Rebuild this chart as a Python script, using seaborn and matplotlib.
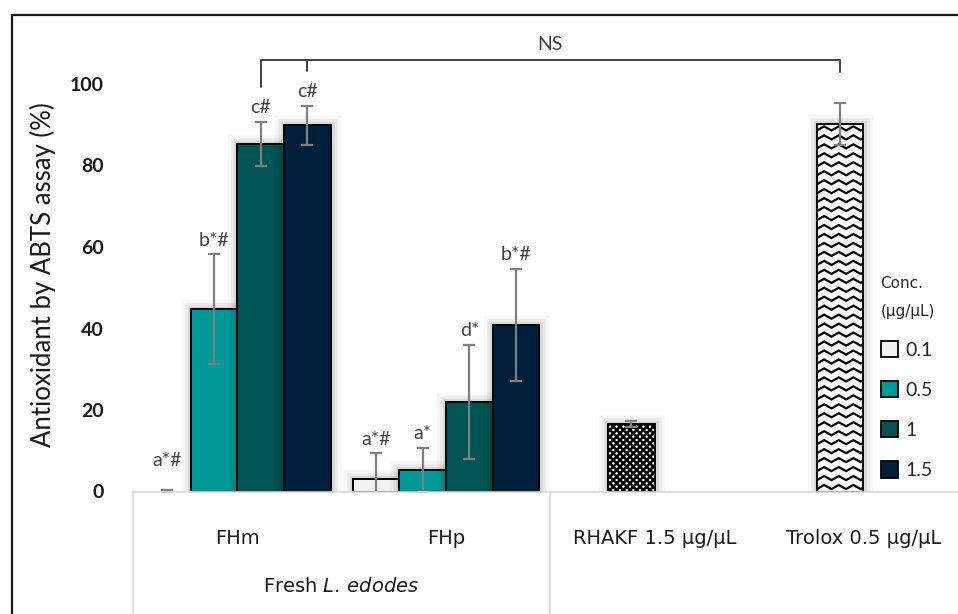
import numpy as np
import pandas as pd
import matplotlib
matplotlib.use("Agg")
import matplotlib.pyplot as plt
import matplotlib.patheffects as pe
from matplotlib.lines import Line2D
from matplotlib.patches import Patch
import seaborn as sns

# ---- data -------------------------------------------------------------
samples = ["FHm", "FHp", "RHAKF 1.5 μg/μL", "Trolox 0.5 μg/μL"]
conc_levels = ["0.1", "0.5", "1", "1.5"]

fhm_mean = [0.0, 44.8, 85.3, 89.9]
fhm_sd = [0.3, 13.4, 5.4, 4.8]
fhm_letters = ["a*#", "b*#", "c#", "c#"]

fhp_mean = [3.1, 5.3, 22.0, 40.9]
fhp_sd = [6.3, 5.4, 14.0, 13.7]
fhp_letters = ["a*#", "a*", "d*", "b*#"]

rhakf_mean = 16.6
rhakf_sd = 0.8
trolox_mean = 90.2
trolox_sd = 5.1

conc_colors = ["#F2F2F2", "#009999", "#005452", "#001F3A"]

# ---- table for seaborn -------------------------------------------------
rows = []
for c, m, s, l in zip(conc_levels, fhm_mean, fhm_sd, fhm_letters):
    rows.append(dict(sample="FHm", series=c, mean=m, sd=s, letter=l, fill="solid"))
for c, m, s, l in zip(conc_levels, fhp_mean, fhp_sd, fhp_letters):
    rows.append(dict(sample="FHp", series=c, mean=m, sd=s, letter=l, fill="solid"))
# reference compounds sit in the second series slot of their category
rows.append(dict(sample=samples[2], series="0.5", mean=rhakf_mean, sd=rhakf_sd, letter="", fill="dots"))
rows.append(dict(sample=samples[3], series="0.5", mean=trolox_mean, sd=trolox_sd, letter="", fill="zigzag"))
df = pd.DataFrame(rows)

# ---- style -------------------------------------------------------------
sns.set_style("white")
plt.rcParams["font.family"] = ["Lato", "DejaVu Sans"]
plt.rcParams["mathtext.fontset"] = "custom"
plt.rcParams["mathtext.rm"] = "DejaVu Sans"
plt.rcParams["mathtext.it"] = "DejaVu Sans:italic"
plt.rcParams["hatch.linewidth"] = 1.8
tahoma_like = ["DejaVu Sans"]

W, H = 958, 614
fig = plt.figure(figsize=(W / 100, H / 100), dpi=100)

# plot area in pixels: x from 133 to ~968, y=0 at 491.5, 4.075 px per unit
ymax = 110
y0_px, px_per_unit = 491.5, 4.075
ax_left, ax_w = 133, 834.8
ax_h = ymax * px_per_unit
ax = fig.add_axes([ax_left / W, (H - y0_px) / H, ax_w / W, ax_h / H])

cluster_width = 0.893
bar_w = cluster_width / len(conc_levels)

shadow = [pe.Stroke(linewidth=14, foreground=(0, 0, 0, 0.03)),
          pe.Stroke(linewidth=9, foreground=(0, 0, 0, 0.05)),
          pe.Stroke(linewidth=5, foreground=(0, 0, 0, 0.07)),
          pe.Normal()]

sns.barplot(data=df, x="sample", y="mean", hue="series", order=samples,
            hue_order=conc_levels, palette=conc_colors, saturation=1,
            width=cluster_width, gap=0, dodge=True, errorbar=None,
            edgecolor="black", linewidth=1.4, legend=False, ax=ax, zorder=2)

# centre of every bar from category index and series slot
df["xpos"] = [samples.index(s) + (conc_levels.index(c) - 1.5) * bar_w
              for s, c in zip(df["sample"], df["series"])]

bars = [p for p in ax.patches]
for p in bars:
    if p.get_height() > 0:
        p.set_path_effects(shadow)
    else:
        p.set_linewidth(0)

def bar_at(x):
    return min(bars, key=lambda p: abs(p.get_x() + p.get_width() / 2 - x))

# pattern fills for the reference compounds
for _, r in df[df["fill"] != "solid"].iterrows():
    p = bar_at(r["xpos"])
    p.set_facecolor("white")
    if r["fill"] == "dots":
        p.set_hatch("xxxxx")
    else:
        # zig-zag fill clipped to the bar outline
        period = 0.07
        amp = 0.5
        step = 2.2
        xs = np.arange(p.get_x() - period, p.get_x() + p.get_width() + period, period / 2)
        zz = np.where(np.arange(len(xs)) % 2 == 0, -amp, amp)
        for yl in np.arange(step / 2, r["mean"] + step, step):
            ln, = ax.plot(xs, yl + zz, color="black", lw=1.6, zorder=2.5,
                          solid_joinstyle="miter")
            ln.set_clip_path(p)

# error bars
ax.errorbar(df["xpos"], df["mean"], yerr=df["sd"], fmt="none", ecolor="#7F7F7F",
            elinewidth=1.6, capsize=4.5, capthick=1.6, zorder=3)

# significance letters
label_offsets = {("FHm", "0.1"): 15}
for _, r in df[df["letter"] != ""].iterrows():
    off = label_offsets.get((r["sample"], r["series"]), 4)
    ax.annotate(r["letter"], (r["xpos"], r["mean"] + r["sd"]), xytext=(0, off),
                textcoords="offset points", ha="center", va="bottom",
                fontsize=14, color="#404040", zorder=4, annotation_clip=False)

# NS bracket between FHm (1, 1.5) and Trolox
x_fhm1 = df.query("sample=='FHm' and series=='1'")["xpos"].iloc[0]
x_fhm15 = df.query("sample=='FHm' and series=='1.5'")["xpos"].iloc[0]
x_tro = df.query("fill=='zigzag'")["xpos"].iloc[0]
by = 105.9
kw = dict(color="#404040", lw=1.4, clip_on=False, zorder=4)
ax.plot([x_fhm1, x_fhm1, x_tro, x_tro], [99.3, by, by, 102.9], **kw)
ax.plot([x_fhm15, x_fhm15], [by, 103.2], **kw)
ax.text((x_fhm1 + x_tro) / 2, 109.6, "NS", ha="center", va="center",
        fontsize=14, color="#404040")

# axes
ax.set_xlim(-0.5, 3.5)
ax.set_ylim(0, ymax)
ax.set_yticks([0, 20, 40, 60, 80, 100])
ax.tick_params(axis="y", length=0, pad=21, labelsize=14, labelcolor="#1a1a1a")
for t in ax.get_yticklabels():
    t.set_fontweight("bold")
ax.set_xticks(range(len(samples)))
ax.set_xticklabels(samples, family=tahoma_like)
ax.tick_params(axis="x", length=0, pad=27, labelsize=14, labelcolor="#1a1a1a")
ax.set_xlabel("")
ax.set_ylabel("Antioxidant by ABTS assay (%)", fontsize=18.5, color="#1a1a1a")
ax.yaxis.set_label_coords(-0.092, 0.484)
for s in ["left", "top", "right"]:
    ax.spines[s].set_visible(False)
ax.spines["bottom"].set_color("#D9D9D9")
ax.spines["bottom"].set_linewidth(1.2)
ax.spines["bottom"].set_zorder(5)

# category table dividers under the axis
tr = ax.get_xaxis_transform()
for xd in [-0.5, 1.5]:
    ax.plot([xd, xd], [0, -0.4], color="#D9D9D9", lw=1.2, transform=tr, clip_on=False)
ax.text(0.5, -(587 - y0_px) / ax_h, "Fresh $\\it{L.\\,edodes}$", transform=tr,
        ha="center", va="center", fontsize=14, color="#1a1a1a", family=tahoma_like)

# legend
handles = [Patch(facecolor=c, edgecolor="black", lw=1.3) for c in conc_colors]
leg = fig.legend(handles, conc_levels, title="Conc.\n(μg/μL)", loc="upper left",
                 bbox_to_anchor=(863 / W, 1 - 258 / H), frameon=False,
                 fontsize=14, alignment="left",
                 title_fontproperties={"family": tahoma_like, "size": 11},
                 handlelength=0.9, handleheight=0.9, handletextpad=0.4,
                 labelspacing=1.15)
leg.get_title().set_linespacing(2.1)
for t in leg.get_texts():
    t.set_color("#262626")

# outer frame of the chart area
fkw = dict(color="#1a1a1a", lw=1.6, transform=fig.transFigure)
fig.add_artist(Line2D([12 / W, 12 / W], [0, 1 - 15 / H], **fkw))
fig.add_artist(Line2D([12 / W, 1], [1 - 15 / H, 1 - 15 / H], **fkw))

fig.savefig("out.png", dpi=100)
